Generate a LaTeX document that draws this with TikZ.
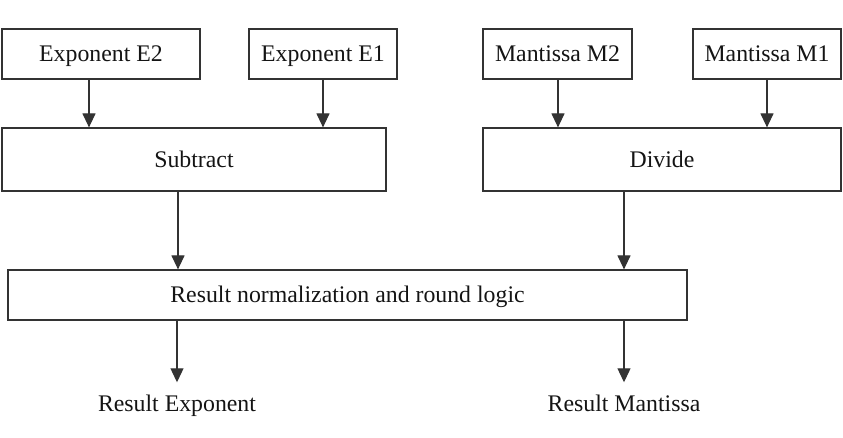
\documentclass[tikz,border=0pt]{standalone}
\usepackage{fontspec}
\setmainfont{Liberation Serif}
\usetikzlibrary{arrows.meta}
\definecolor{ln}{HTML}{333333}
\definecolor{tx}{HTML}{141414}
\begin{document}
\begin{tikzpicture}[x=1bp,y=-1bp,
  box/.style={draw=ln,line width=1.2bp,rectangle,inner sep=0pt,text=tx,text height=16bp,text depth=0pt,font=\fontsize{23.8bp}{28bp}\selectfont},
  lbl/.style={inner sep=0pt,text=tx,font=\fontsize{23.8bp}{28bp}\selectfont,anchor=base},
  arr/.style={draw=ln,line width=1.2bp,-{Triangle[length=14bp,width=13bp]}}]
\useasboundingbox (0,0) rectangle (843,438);
\node[box,minimum width=198bp,minimum height=50bp] (e2) at (101,54) {Exponent E2};
\node[box,minimum width=148bp,minimum height=50bp] (e1) at (323,54) {Exponent E1};
\node[box,minimum width=149bp,minimum height=50bp] (m2) at (557.5,54) {Mantissa M2};
\node[box,minimum width=148bp,minimum height=50bp] (m1) at (767,54) {Mantissa M1};
\node[box,minimum width=384bp,minimum height=63bp] (sub) at (194,159.5) {Subtract};
\node[box,minimum width=358bp,minimum height=63bp] (div) at (662,159.5) {Divide};
\node[box,minimum width=679bp,minimum height=50bp] (res) at (347.5,295) {Result normalization and round logic};
\node[lbl] (rexp) at (177,411) {Result Exponent};
\node[lbl] (rman) at (624,411) {Result Mantissa};
\draw[arr] ([xshift=-12bp]e2.south) -- ([xshift=-12bp]e2.south |- sub.north);
\draw[arr] (e1.south) -- (e1.south |- sub.north);
\draw[arr] ([xshift=0.5bp]m2.south) -- ([xshift=0.5bp]m2.south |- div.north);
\draw[arr] (m1.south) -- (m1.south |- div.north);
\draw[arr] ([xshift=-16bp]sub.south) -- ([xshift=-16bp]sub.south |- res.north);
\draw[arr] ([xshift=-38bp]div.south) -- ([xshift=-38bp]div.south |- res.north);
\draw[arr] (rexp.north |- res.south) -- ([yshift=12bp]rexp.north);
\draw[arr] (rman.north |- res.south) -- ([yshift=12bp]rman.north);
\end{tikzpicture}
\end{document}
